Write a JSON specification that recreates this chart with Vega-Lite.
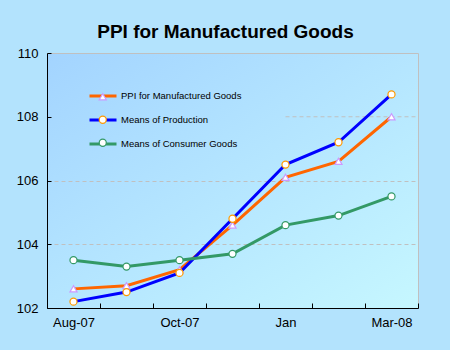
{
  "$schema": "https://vega.github.io/schema/vega-lite/v6.json",
  "width": 371,
  "height": 255,
  "autosize": {"type": "none"},
  "padding": {"left": 47, "top": 53, "right": 32, "bottom": 42},
  "background": "#b3e3fd",
  "config": {
    "font": "Liberation Sans",
    "view": {
      "fill": {"gradient": "linear", "x1": 0, "y1": 0, "x2": 1, "y2": 1, "stops": [{"offset": 0, "color": "#a3d4ff"}, {"offset": 1, "color": "#c6f7ff"}]},
      "stroke": "#c0c0c0"
    }
  },
  "title": {
    "text": "PPI for Manufactured Goods",
    "fontSize": 19,
    "fontWeight": "bold",
    "color": "#000000",
    "anchor": "middle",
    "frame": "group",
    "baseline": "alphabetic",
    "dx": -7,
    "offset": -10
  },
  "datasets": {
    "main": [
      {"month": "Aug-07", "series": "PPI for Manufactured Goods", "value": 102.6},
      {"month": "Sep-07", "series": "PPI for Manufactured Goods", "value": 102.7},
      {"month": "Oct-07", "series": "PPI for Manufactured Goods", "value": 103.2},
      {"month": "Nov-07", "series": "PPI for Manufactured Goods", "value": 104.6},
      {"month": "Jan", "series": "PPI for Manufactured Goods", "value": 106.1},
      {"month": "Feb-08", "series": "PPI for Manufactured Goods", "value": 106.6},
      {"month": "Mar-08", "series": "PPI for Manufactured Goods", "value": 108.0},
      {"month": "Aug-07", "series": "Means of Production", "value": 102.2},
      {"month": "Sep-07", "series": "Means of Production", "value": 102.5},
      {"month": "Oct-07", "series": "Means of Production", "value": 103.1},
      {"month": "Nov-07", "series": "Means of Production", "value": 104.8},
      {"month": "Jan", "series": "Means of Production", "value": 106.5},
      {"month": "Feb-08", "series": "Means of Production", "value": 107.2},
      {"month": "Mar-08", "series": "Means of Production", "value": 108.7},
      {"month": "Aug-07", "series": "Means of Consumer Goods", "value": 103.5},
      {"month": "Sep-07", "series": "Means of Consumer Goods", "value": 103.3},
      {"month": "Oct-07", "series": "Means of Consumer Goods", "value": 103.5},
      {"month": "Nov-07", "series": "Means of Consumer Goods", "value": 103.7},
      {"month": "Jan", "series": "Means of Consumer Goods", "value": 104.6},
      {"month": "Feb-08", "series": "Means of Consumer Goods", "value": 104.9},
      {"month": "Mar-08", "series": "Means of Consumer Goods", "value": 105.5}
    ],
    "grid": [
      {"from": "Jan", "to": "Mar-08", "level": 108}
    ]
  },
  "encoding": {
    "x": {
      "field": "month",
      "type": "ordinal",
      "scale": {"type": "band", "paddingInner": 0, "paddingOuter": 0, "domain": ["Aug-07", "Sep-07", "Oct-07", "Nov-07", "Jan", "Feb-08", "Mar-08"]},
      "axis": {
        "title": null,
        "labelAngle": 0,
        "labelFontSize": 13,
        "labelColor": "#000000",
        "labelPadding": 13,
        "labelExpr": "indexof(['Aug-07','Oct-07','Jan','Mar-08'], datum.value) >= 0 ? datum.value : ''",
        "tickBand": "extent",
        "tickSize": -5,
        "tickColor": "#000000",
        "domainColor": "#000000",
        "grid": false
      }
    },
    "y": {
      "field": "value",
      "type": "quantitative",
      "scale": {"domain": [102, 110], "nice": false, "zero": false},
      "axis": {
        "title": null,
        "values": [102, 104, 106, 108, 110],
        "labelFontSize": 13,
        "labelColor": "#000000",
        "labelPadding": 13,
        "tickSize": -4,
        "tickColor": "#000000",
        "domainColor": "#000000",
        "grid": true,
        "gridDash": [4, 3],
        "gridColor": "#c0c0c0",
        "gridOpacity": {"condition": {"test": "datum.value >= 108 || datum.value <= 102", "value": 0}, "value": 1}
      }
    }
  },
  "layer": [
    {
      "data": {"name": "grid"},
      "mark": {"type": "rule", "strokeDash": [4, 3], "color": "#c0c0c0"},
      "encoding": {
        "x": {"field": "from", "type": "ordinal"},
        "x2": {"field": "to", "bandPosition": 1},
        "y": {"field": "level", "type": "quantitative"}
      }
    },
    {
      "data": {"name": "main"},
      "mark": {"type": "line", "strokeWidth": 3},
      "encoding": {
        "color": {
          "field": "series",
          "type": "nominal",
          "scale": {"domain": ["PPI for Manufactured Goods", "Means of Production", "Means of Consumer Goods"], "range": ["#ff6600", "#0000ff", "#339966"]},
          "legend": {
            "title": null,
            "orient": "none",
            "legendX": 41,
            "legendY": 28,
            "symbolType": "stroke",
            "symbolSize": 729,
            "symbolStrokeWidth": 3,
            "labelFontSize": 9.5,
            "labelColor": "#000000",
            "labelOffset": 3,
            "rowPadding": 3,
            "padding": 0
          }
        }
      }
    },
    {
      "data": {"name": "main"},
      "mark": {"type": "point", "filled": false, "fill": "#ffffff", "fillOpacity": 1, "strokeWidth": 1.2, "size": 50, "opacity": 1},
      "encoding": {
        "shape": {
          "field": "series",
          "type": "nominal",
          "sort": null,
          "scale": {"range": ["triangle-up", "circle", "circle"]},
          "legend": {
            "title": null,
            "orient": "none",
            "legendX": 51,
            "legendY": 39,
            "symbolSize": 50,
            "symbolFillColor": "#ffffff",
            "symbolStrokeWidth": 1.2,
            "labelFontSize": 9.5,
            "labelExpr": "''",
            "rowPadding": 10,
            "padding": 0
          }
        },
        "stroke": {
          "field": "series",
          "type": "nominal",
          "sort": null,
          "scale": {"range": ["#cc99ff", "#ff9900", "#339966"]},
          "legend": {
            "title": null,
            "orient": "none",
            "legendX": 51,
            "legendY": 39,
            "symbolSize": 50,
            "symbolFillColor": "#ffffff",
            "symbolStrokeWidth": 1.2,
            "labelFontSize": 9.5,
            "labelExpr": "''",
            "rowPadding": 10,
            "padding": 0
          }
        }
      }
    }
  ]
}
